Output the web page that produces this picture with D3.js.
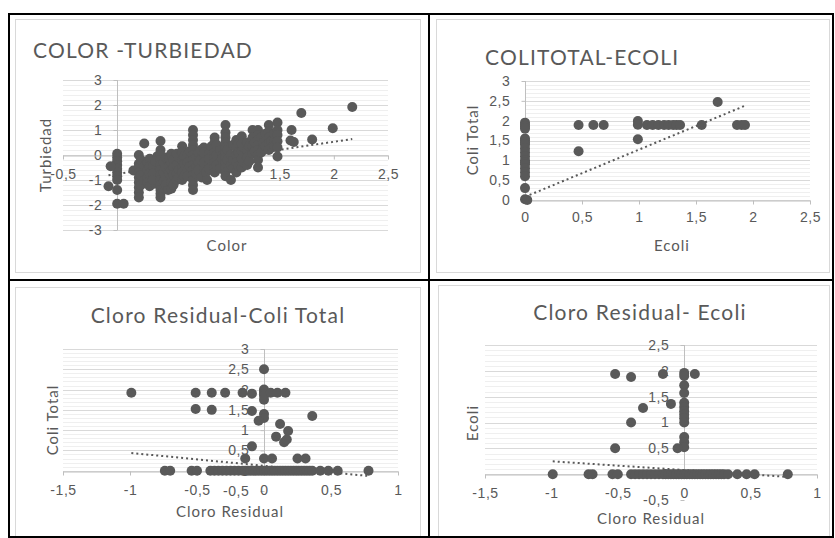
<!DOCTYPE html>
<html>
<head>
<meta charset="utf-8">
<script src="https://cdn.jsdelivr.net/npm/d3@7"></script>
<style>
  body { margin: 0; background: #fff; }
  svg { display: block; font-family: Lato, "Open Sans", sans-serif; }
</style>
</head>
<body>
<script>
// data: [x, y] pairs
const colorTurbiedad = [
  [0,0.05],[0,-0.1],[0,-0.25],[0,-0.4],[0,-0.55],[0,-0.7],[0,-0.85],[0,-1.0],
  [-0.06,-0.45],[-0.08,-1.25],[0,-1.4],[0,-1.95],[0.06,-1.95],[0.15,-0.62],
  [0.2,0],[0.2,-0.35],[0.2,-0.5],[0.2,-0.7],[0.2,-0.9],[0.2,-1.1],[0.2,-1.3],[0.2,-1.5],[0.2,-1.7],
  [0.22,-0.2],[0.22,-0.8],[0.22,-1.2],[0.25,-0.45],[0.25,-1.0],
  [0.25,0.46],[0.28,-0.3],[0.28,-0.6],[0.28,-0.9],[0.28,-1.1],[0.3,-0.15],
  [0.3,-0.45],[0.3,-0.75],[0.3,-1.25],[0.35,-0.6],[0.35,-0.9],[0.35,-1.15],[0.37,-0.05],
  [0.33,-0.45],[0.33,-0.75],[0.33,-1.0],[0.35,-0.25],
  [0.4,0.56],[0.4,0.2],[0.4,0],[0.4,-0.2],[0.4,-0.4],[0.4,-0.6],[0.4,-0.8],[0.4,-1.0],[0.4,-1.2],[0.4,-1.4],[0.4,-1.55],[0.4,-1.7],
  [0.43,-0.3],[0.43,-0.7],[0.43,-1.05],
  [0.45,-0.1],[0.45,-0.5],[0.45,-0.9],[0.45,-1.2],
  [0.48,-0.15],[0.48,-0.45],[0.48,-0.75],[0.47,-1.4],
  [0.5,0.05],[0.5,-0.3],[0.5,-0.6],[0.5,-0.9],[0.5,-1.1],[0.5,-1.35],
  [0.52,-0.2],[0.52,-0.5],[0.52,-0.8],[0.52,-1.2],
  [0.55,0.05],[0.55,-0.4],[0.55,-0.75],[0.55,-1.0],
  [0.57,-0.1],[0.57,-0.6],[0.57,-0.9],
  [0.6,0.35],[0.6,0.1],[0.6,-0.2],[0.6,-0.5],[0.6,-0.7],[0.6,-1.0],
  [0.62,-0.05],[0.62,-0.35],[0.62,-0.85],
  [0.65,0],[0.65,-0.3],[0.65,-0.6],[0.65,-0.85],[0.67,0.15],[0.67,-0.45],
  [0.7,1.0],[0.7,0.8],[0.7,0.6],[0.7,0.4],[0.7,0.2],[0.7,0],[0.7,-0.2],[0.7,-0.4],[0.7,-0.6],[0.7,-0.8],[0.7,-1.0],[0.7,-1.2],[0.7,-1.4],
  [0.73,-0.1],[0.73,-0.45],[0.73,-0.75],
  [0.75,0.1],[0.75,-0.3],[0.75,-0.6],[0.78,-0.9],[0.77,0.2],[0.77,-0.2],
  [0.8,0.3],[0.8,-0.1],[0.8,-0.5],[0.8,0.1],[0.8,-0.3],[0.82,-0.7],[0.83,-1.0],
  [0.85,0.05],[0.85,-0.35],[0.85,-0.15],[0.85,-0.55],[0.87,0.35],
  [0.9,0.7],[0.9,0.5],[0.9,0.3],[0.9,0.1],[0.9,-0.1],[0.9,-0.3],[0.9,-0.5],[0.9,-0.7],
  [0.92,0.4],[0.92,0],[0.92,-0.4],
  [0.95,0.2],[0.95,-0.3],[0.95,-0.55],[0.97,0],[0.97,-0.15],
  [1.0,1.2],[1.0,0.9],[1.0,0.7],[1.0,0.5],[1.0,0.3],[1.0,0.1],[1.0,-0.1],[1.0,-0.3],[1.0,-0.5],[1.0,-0.7],[1.0,-0.85],
  [1.02,0.2],[1.02,-0.2],
  [1.05,-1.0],[1.05,0],[1.05,-0.4],[1.07,0.4],[1.07,-0.2],[1.07,-0.55],
  [1.1,0.6],[1.1,0.3],[1.1,0],[1.1,-0.3],[1.1,-0.7],
  [1.12,0.45],[1.12,0.1],[1.12,-0.45],
  [1.15,0.75],[1.15,0.45],[1.15,0.15],[1.15,-0.15],[1.15,-0.5],
  [1.17,0.3],[1.17,-0.3],
  [1.2,0.5],[1.2,0.2],[1.2,-0.1],[1.2,-0.4],[1.22,0.35],[1.22,-0.25],
  [1.25,1.0],[1.25,0.7],[1.25,0.35],[1.25,0.05],[1.27,0.5],[1.27,0.15],
  [1.3,1.0],[1.3,0.8],[1.3,0.6],[1.3,0.4],[1.3,0.2],[1.3,0],[1.3,-0.2],[1.3,-0.5],
  [1.33,0.7],[1.33,0.1],
  [1.35,0.5],[1.35,0.25],[1.37,0.85],[1.37,0.35],
  [1.4,1.2],[1.4,0.95],[1.4,0.7],[1.4,0.45],[1.4,0.2],
  [1.42,0.55],[1.43,0.3],
  [1.45,0.6],[1.45,0.35],[1.45,0.85],
  [1.48,1.3],[1.48,1.0],[1.48,0.8],[1.48,0.55],[1.48,0.3],[1.48,-0.06],
  [1.61,1.0],[1.6,0.58],[1.63,0.52],[1.7,1.68],[1.8,0.62],[1.99,1.07],[2.17,1.92]
];
const ecoliColiTotal = [
  [0,1.95],[0,1.9],[0,1.85],[0,1.8],[0,1.55],[0,1.5],[0,1.45],[0,1.4],[0,1.3],[0,1.2],
  [0,1.1],[0,1.0],[0,0.95],[0,0.9],[0,0.8],[0,0.7],[0,0.6],[0,0.3],[0,0.02],[0.02,0],
  [0.47,1.89],[0.47,1.23],[0.6,1.89],[0.69,1.89],
  [0.99,1.99],[0.99,1.9],[0.99,1.53],
  [1.07,1.89],[1.12,1.89],[1.17,1.89],[1.22,1.89],[1.26,1.89],[1.3,1.89],[1.33,1.89],[1.36,1.89],
  [1.55,1.89],[1.69,2.47],[1.86,1.89],[1.9,1.89],[1.93,1.89]
];
const cloroColiTotal = [
  [-0.99,1.92],[-0.51,1.92],[-0.39,1.92],[-0.29,1.92],[-0.16,1.92],[-0.09,1.9],
  [0,2.5],[0,2.0],[0,1.95],[0,1.9],[0,1.85],[0,1.75],[0.05,1.92],[0.1,1.92],[0.16,1.92],
  [-0.51,1.52],[-0.39,1.5],[-0.09,1.47],[0,1.4],[0,1.3],[-0.04,1.23],[0.12,1.15],
  [0.18,0.98],[0.09,0.84],[0.15,0.7],[0.17,0.77],[0.36,1.35],[-0.09,0.6],
  [-0.14,0.3],[0,0.3],[0.06,0.3],[0.25,0.3],[0.31,0.3],
  [-0.74,0],[-0.7,0],[-0.54,0],[-0.5,0],
  [-0.4,0],[-0.37,0],[-0.34,0],[-0.31,0],[-0.28,0],[-0.25,0],[-0.22,0],[-0.19,0],[-0.16,0],
  [-0.14,0],[-0.12,0],[-0.1,0],[-0.08,0],[-0.06,0],[-0.04,0],[-0.02,0],[0,0],[0.02,0],
  [0.04,0],[0.06,0],[0.08,0],[0.1,0],[0.12,0],[0.14,0],[0.16,0],[0.18,0],[0.2,0],
  [0.22,0],[0.24,0],[0.26,0],[0.28,0],[0.3,0],[0.32,0],[0.34,0],[0.36,0],
  [0.42,0],[0.48,0],[0.55,0],[0.78,0]
];
const cloroEcoli = [
  [-0.52,1.94],[-0.4,1.88],[-0.16,1.94],[0,1.96],[0,1.9],[0.08,1.94],
  [0,1.72],[0,1.57],[0,1.38],[0,1.3],[0,1.22],[0,1.15],[0,1.08],[0,1.0],
  [-0.1,1.36],[-0.31,1.28],[-0.4,1.0],[-0.52,0.5],[0,0.72],[0,0.62],[0,0.52],[-0.05,0.5],
  [-0.99,0],[-0.72,0],[-0.69,0],[-0.54,0],[-0.5,0],
  [-0.4,0],[-0.37,0],[-0.34,0],[-0.31,0],[-0.28,0],[-0.25,0],[-0.22,0],[-0.19,0],[-0.16,0],
  [-0.14,0],[-0.12,0],[-0.1,0],[-0.08,0],[-0.06,0],[-0.04,0],[-0.02,0],[0,0],[0.02,0],
  [0.04,0],[0.06,0],[0.08,0],[0.1,0],[0.12,0],[0.14,0],[0.16,0],[0.18,0],[0.2,0],
  [0.22,0],[0.24,0],[0.26,0],[0.28,0],[0.3,0],[0.33,0],
  [0.4,0],[0.47,0],[0.53,0],[0.78,0]
];

// linear trendlines: [slope, intercept]
const trendColorTurbiedad = [0.645, -0.76];
const trendEcoliColiTotal = [1.19, 0.08];
const trendCloroColiTotal = [-0.32, 0.12];
const trendCloroEcoli = [-0.17, 0.08];

// tick labels
const ticksColor = [-0.5, 0, 0.5, 1, 1.5, 2, 2.5];
const ticksTurbiedad = [-3, -2, -1, 0, 1, 2, 3];
const ticksEcoli = [0, 0.5, 1, 1.5, 2, 2.5];
const ticksColiTotal = [0, 0.5, 1, 1.5, 2, 2.5, 3];
const ticksCloro = [-1.5, -1, -0.5, 0, 0.5, 1];
const ticksColiTotal2 = [-0.5, 0, 0.5, 1, 1.5, 2, 2.5, 3];
const ticksEcoli2 = [-0.5, 0, 0.5, 1, 1.5, 2, 2.5];

const textColor = "#595959";
const locale = d3.formatLocale({decimal: ",", thousands: ".", grouping: [3], currency: ["", ""], minus: "-"});
const fmt = locale.format("~g");

const svg = d3.select("body").append("svg")
  .attr("width", 835)
  .attr("height", 538);

// chart area frames
const frames = [[15, 19, 420, 272], [436, 19, 829, 272], [15, 287, 420, 536], [438, 285, 829, 537]];
svg.selectAll(".frame")
  .data(frames)
  .enter().append("rect")
    .attr("x", d => d[0] + 0.5)
    .attr("y", d => d[1] + 0.5)
    .attr("width", d => d[2] - d[0])
    .attr("height", d => d[3] - d[1])
    .attr("fill", "#fff")
    .attr("stroke", "#d9d9d9");

function drawPanel(p) {
  const x = d3.scaleLinear().domain(p.xDomain).range(p.xRange);
  const y = d3.scaleLinear().domain(p.yDomain).range(p.yRange);
  const g = svg.append("g");

  // horizontal gridlines (minor, then major)
  const minor = d3.range(p.gridFrom, p.yDomain[1] + 1e-9, p.minorStep);
  const major = p.yTicks.filter(v => v >= p.gridFrom);
  g.selectAll(".minor")
    .data(minor)
    .enter().append("line")
      .attr("x1", p.xRange[0]).attr("x2", p.xRange[1])
      .attr("y1", d => Math.round(y(d)) + 0.5).attr("y2", d => Math.round(y(d)) + 0.5)
      .attr("stroke", "#efefef");
  g.selectAll(".major")
    .data(major)
    .enter().append("line")
      .attr("x1", p.xRange[0]).attr("x2", p.xRange[1])
      .attr("y1", d => Math.round(y(d)) + 0.5).attr("y2", d => Math.round(y(d)) + 0.5)
      .attr("stroke", "#d9d9d9");

  // y axis on x = 0
  const yAxis = g.append("g")
    .attr("transform", `translate(${Math.round(x(0)) + 0.5},0)`)
    .call(d3.axisLeft(y).tickValues(p.yTicks).tickFormat(fmt).tickSize(4).tickPadding(11).tickSizeOuter(0));
  yAxis.select(".domain").remove();
  yAxis.append("line")
    .attr("y1", y(p.yDomain[1])).attr("y2", y(p.gridFrom))
    .attr("stroke", "#bfbfbf");

  // x axis on y = 0
  const xAxis = g.append("g")
    .attr("transform", `translate(0,${Math.round(y(0)) + 0.5})`)
    .call(d3.axisBottom(x).tickValues(p.xTicks).tickFormat(fmt).tickSize(4).tickPadding(p.xPad).tickSizeOuter(0));
  xAxis.select(".domain").attr("stroke", "#bfbfbf");

  [yAxis, xAxis].forEach(a => {
    a.selectAll(".tick line").attr("stroke", "#bfbfbf");
    a.selectAll(".tick text")
      .attr("fill", textColor)
      .style("font-size", "14px")
      .style("letter-spacing", "0.6px");
  });

  // trendline
  const ext = d3.extent(p.data, d => d[0]);
  const line = d3.line().x(d => x(d)).y(d => y(p.trend[0] * d + p.trend[1]));
  g.append("path")
    .datum(ext)
    .attr("d", line)
    .attr("fill", "none")
    .attr("stroke", textColor)
    .attr("stroke-width", 2)
    .attr("stroke-dasharray", "2,3");

  // markers
  g.selectAll(".dot")
    .data(p.data)
    .enter().append("circle")
      .attr("cx", d => x(d[0]))
      .attr("cy", d => y(d[1]))
      .attr("r", 5)
      .attr("fill", textColor);

  // titles
  g.append("text")
    .attr("x", p.title[1]).attr("y", p.title[2])
    .attr("text-anchor", p.title[3])
    .attr("fill", textColor)
    .style("font-size", "21px")
    .style("letter-spacing", "1.2px")
    .text(p.title[0]);
  g.append("text")
    .attr("x", p.xTitle[1]).attr("y", p.xTitle[2])
    .attr("text-anchor", "middle")
    .attr("dominant-baseline", "central")
    .attr("fill", textColor)
    .style("font-size", "15px")
    .style("letter-spacing", "1px")
    .text(p.xTitle[0]);
  g.append("text")
    .attr("transform", `translate(${p.yTitle[1]},${p.yTitle[2]}) rotate(-90)`)
    .attr("text-anchor", "middle")
    .attr("dominant-baseline", "central")
    .attr("fill", textColor)
    .style("font-size", "15px")
    .style("letter-spacing", "1px")
    .text(p.yTitle[0]);
}

drawPanel({
  data: colorTurbiedad, trend: trendColorTurbiedad,
  xDomain: [-0.5, 2.5], xRange: [63, 388], yDomain: [-3, 3], yRange: [230, 80],
  xTicks: ticksColor, yTicks: ticksTurbiedad, minorStep: 0.2, gridFrom: -3, xPad: 10,
  title: ["COLOR -TURBIEDAD", 33, 58, "start"],
  xTitle: ["Color", 227, 245], yTitle: ["Turbiedad", 45, 155]
});
drawPanel({
  data: ecoliColiTotal, trend: trendEcoliColiTotal,
  xDomain: [0, 2.5], xRange: [525, 810], yDomain: [0, 3], yRange: [200, 81],
  xTicks: ticksEcoli, yTicks: ticksColiTotal, minorStep: 0.1, gridFrom: 0, xPad: 8,
  title: ["COLITOTAL-ECOLI", 485, 65, "start"],
  xTitle: ["Ecoli", 672, 245], yTitle: ["Coli Total", 472, 140]
});
drawPanel({
  data: cloroColiTotal, trend: trendCloroColiTotal,
  xDomain: [-1.5, 1], xRange: [63, 398], yDomain: [-0.5, 3], yRange: [491, 349],
  xTicks: ticksCloro, yTicks: ticksColiTotal2, minorStep: 0.1, gridFrom: 0, xPad: 10,
  title: ["Cloro Residual-Coli Total", 218, 323, "middle"],
  xTitle: ["Cloro Residual", 230, 511], yTitle: ["Coli Total", 52, 420]
});
drawPanel({
  data: cloroEcoli, trend: trendCloroEcoli,
  xDomain: [-1.5, 1], xRange: [485, 817], yDomain: [-0.5, 2.5], yRange: [500, 345],
  xTicks: ticksCloro, yTicks: ticksEcoli2, minorStep: 0.1, gridFrom: 0, xPad: 10,
  title: ["Cloro Residual- Ecoli", 640, 320, "middle"],
  xTitle: ["Cloro Residual", 651, 518], yTitle: ["Ecoli", 472, 423]
});

// table borders
svg.append("rect")
  .attr("x", 9).attr("y", 14)
  .attr("width", 824).attr("height", 523)
  .attr("fill", "none")
  .attr("stroke", "#000")
  .attr("stroke-width", 2);
svg.append("line")
  .attr("x1", 429).attr("x2", 429).attr("y1", 14).attr("y2", 538)
  .attr("stroke", "#000").attr("stroke-width", 2);
svg.append("line")
  .attr("x1", 9).attr("x2", 833).attr("y1", 280).attr("y2", 280)
  .attr("stroke", "#000").attr("stroke-width", 2);
</script>
</body>
</html>
